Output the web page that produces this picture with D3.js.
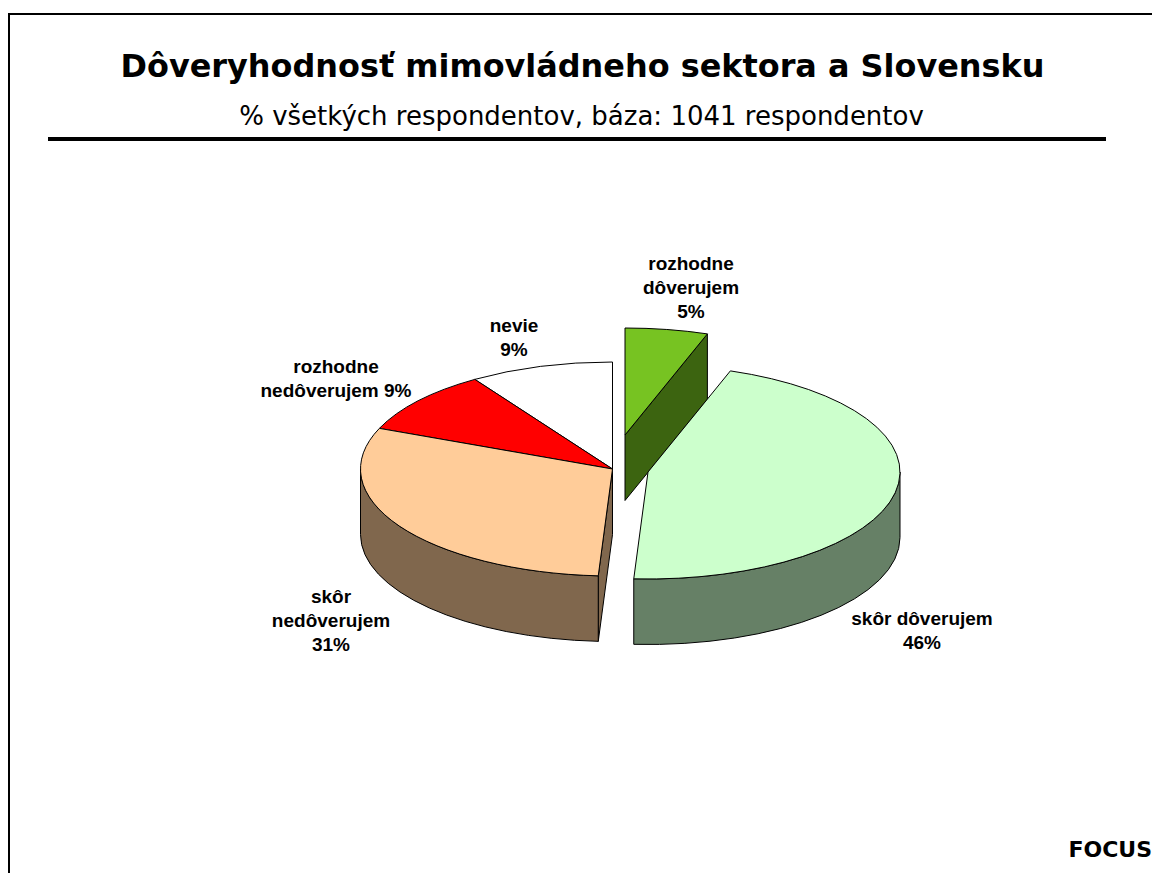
<!DOCTYPE html>
<html><head><meta charset="utf-8">
<script src="https://cdnjs.cloudflare.com/ajax/libs/d3/7.8.5/d3.min.js"></script>
<style>html,body{margin:0;padding:0;background:#fff;overflow:hidden}svg{display:block}</style>
</head><body><svg id="c" width="1152" height="873"></svg>
<script>
const categories = ["rozhodne dôverujem","skôr dôverujem","skôr nedôverujem","rozhodne nedôverujem","nevie"];
const shares = [5.3,45.6,30.3,9.6,9.2];
const percentLabels = ["5%","46%","31%","9%","9%"];
const titleText = "Dôveryhodnosť mimovládneho sektora a Slovensku";
const subtitleText = "% všetkých respondentov, báza: 1041 respondentov";
const sourceText = "FOCUS";

const topColors  = ["#77c322","#ccffcc","#ffcc99","#ff0000","#ffffff"];
const sideColors = ["#3c6410","#668066","#80674d","#800000","#808080"];

const svg = d3.select("#c");
const rx = 252, ry = 107, depth = 65.5;
const centers = [{x:625,y:435},{x:648,y:472},{x:612.5,y:469},{x:612.5,y:469},{x:612.5,y:469}];

const arcs = d3.pie().sort(null).startAngle(0).endAngle(2*Math.PI)(shares);
const pt = (c,a,dy=0)=>[c.x+rx*Math.sin(a), c.y-ry*Math.cos(a)+dy];
const f = p=>p[0].toFixed(2)+","+p[1].toFixed(2);
const arcTo = (c,a1,a0,dy)=>{
  const p = pt(c,a1,dy), large = Math.abs(a1-a0)>Math.PI?1:0, sweep = a1>a0?1:0;
  return `A${rx},${ry} 0 ${large} ${sweep} ${f(p)}`;
};
const wedge = (c,a0,a1)=>`M${f([c.x,c.y])}L${f(pt(c,a0))}${arcTo(c,a1,a0,0)}Z`;
const wall = (c,a0,a1)=>`M${f(pt(c,a0))}${arcTo(c,a1,a0,0)}L${f(pt(c,a1,depth))}${arcTo(c,a0,a1,depth)}Z`;
const cut = (c,a)=>`M${f([c.x,c.y])}L${f(pt(c,a))}L${f(pt(c,a,depth))}L${f([c.x,c.y+depth])}Z`;
const draw = (g,d,fill)=>g.append("path").attr("d",d).attr("fill",fill)
  .attr("stroke","#000").attr("stroke-width",1).attr("stroke-linejoin","round");

svg.append("path").attr("d","M9,873V14H1152").attr("fill","none").attr("stroke","#000").attr("stroke-width",2);

const g = svg.append("g");
const H = Math.PI/2;
draw(g,cut(centers[0],arcs[0].endAngle),sideColors[0]);
draw(g,wedge(centers[0],arcs[0].startAngle,arcs[0].endAngle),topColors[0]);
const w2 = arcs[2];
draw(g,cut(centers[2],w2.startAngle),sideColors[2]);
draw(g,wall(centers[2],w2.startAngle,3*H),sideColors[2]);
[4,3,2].forEach(i=>draw(g,wedge(centers[i],arcs[i].startAngle,arcs[i].endAngle),topColors[i]));
const w1 = arcs[1];
draw(g,wall(centers[1],H,w1.endAngle),sideColors[1]);
draw(g,wedge(centers[1],w1.startAngle,w1.endAngle),topColors[1]);

const text=(s,x,y,size,weight,family,anchor="middle")=>svg.append("text").text(s).attr("x",x).attr("y",y)
  .attr("font-size",size).attr("font-weight",weight).attr("font-family",family).attr("text-anchor",anchor).attr("fill","#000");
const dj="'DejaVu Sans',Verdana,sans-serif", ar="'Liberation Sans',Arial,sans-serif";
text(titleText,582.5,77,31.9,"bold",dj);
text(subtitleText,581.5,125,26,"normal",dj);
svg.append("line").attr("x1",48).attr("x2",1106).attr("y1",139).attr("y2",139).attr("stroke","#000").attr("stroke-width",4);
text(sourceText,1152,857,22,"bold",dj,"end");

const labelLines = [
  [categories[0].split(" ")[0],categories[0].split(" ")[1],percentLabels[0]],
  [categories[1],percentLabels[1]],
  [categories[2].split(" ")[0],categories[2].split(" ")[1],percentLabels[2]],
  [categories[3].split(" ")[0],categories[3].split(" ")[1]+" "+percentLabels[3]],
  [categories[4],percentLabels[4]]
];
const labelSpots = [{x:691,y:269.5},{x:922,y:624.5},{x:331,y:602.5},{x:336,y:372.5},{x:514,y:332}];
labelLines.forEach((ls,i)=>ls.forEach((s,j)=>text(s,labelSpots[i].x,labelSpots[i].y+j*24,19,"bold",ar)));
</script></body></html>
